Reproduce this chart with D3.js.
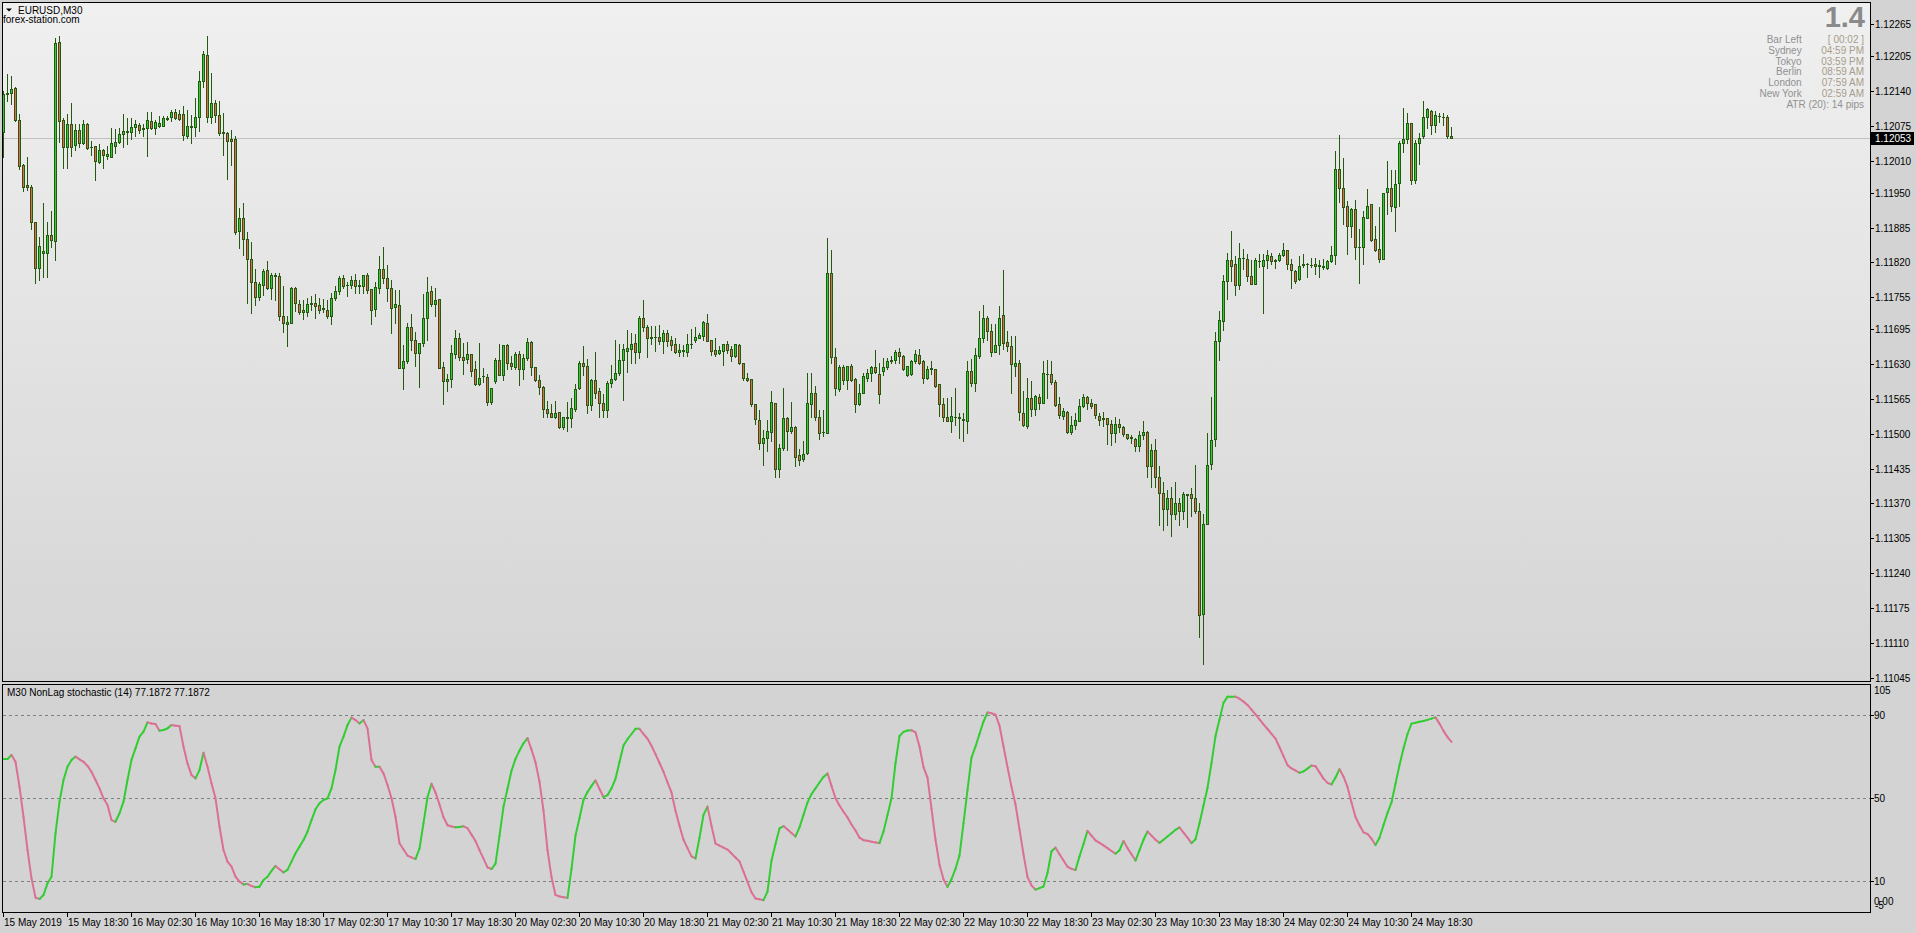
<!DOCTYPE html>
<html><head><meta charset="utf-8">
<script src="https://cdn.jsdelivr.net/npm/d3@7/dist/d3.min.js"></script>
<style>html,body{margin:0;padding:0;background:#d3d3d3;overflow:hidden}</style>
</head><body><svg id="c" width="1916" height="933"></svg>
<script>
const opens=[1.12063,1.12134,1.12137,1.12145,1.12086,1.12001,1.11964,1.11960,1.11895,1.11810,
1.11838,1.11838,1.11871,1.11859,1.12231,1.12086,1.12035,1.12078,1.12039,1.12067,
1.12042,1.12078,1.12036,1.12037,1.12008,1.12029,1.12019,1.12017,1.12038,1.12044,
1.12059,1.12064,1.12064,1.12072,1.12076,1.12070,1.12070,1.12084,1.12070,1.12075,
1.12075,1.12088,1.12091,1.12101,1.12097,1.12097,1.12055,1.12072,1.12072,1.12092,
1.12158,1.12207,1.12091,1.12117,1.12096,1.12063,1.12062,1.12050,1.12050,1.11878,
1.11902,1.11864,1.11827,1.11783,1.11755,1.11778,1.11806,1.11773,1.11795,1.11795,
1.11720,1.11705,1.11707,1.11772,1.11742,1.11732,1.11728,1.11742,1.11744,1.11740,
1.11734,1.11732,1.11719,1.11753,1.11766,1.11791,1.11777,1.11778,1.11787,1.11776,
1.11776,1.11796,1.11770,1.11733,1.11773,1.11808,1.11791,1.11772,1.11736,1.11740,
1.11623,1.11635,1.11699,1.11676,1.11650,1.11669,1.11717,1.11766,1.11742,1.11751,
1.11625,1.11599,1.11602,1.11648,1.11678,1.11644,1.11639,1.11648,1.11621,1.11592,
1.11607,1.11606,1.11560,1.11599,1.11638,1.11609,1.11665,1.11632,1.11625,1.11648,
1.11620,1.11641,1.11671,1.11624,1.11600,1.11588,1.11546,1.11539,1.11532,1.11540,
1.11512,1.11530,1.11530,1.11546,1.11585,1.11632,1.11627,1.11553,1.11600,1.11579,
1.11557,1.11545,1.11595,1.11602,1.11613,1.11638,1.11655,1.11658,1.11669,1.11653,
1.11717,1.11699,1.11678,1.11681,1.11680,1.11674,1.11689,1.11675,1.11667,1.11652,
1.11655,1.11652,1.11667,1.11675,1.11679,1.11683,1.11706,1.11675,1.11656,1.11650,
1.11655,1.11667,1.11658,1.11645,1.11665,1.11633,1.11605,1.11602,1.11555,1.11525,
1.11483,1.11492,1.11504,1.11557,1.11434,1.11473,1.11529,1.11506,1.11513,1.11460,
1.11452,1.11464,1.11556,1.11576,1.11532,1.11503,1.11502,1.11801,1.11644,1.11583,
1.11624,1.11600,1.11626,1.11602,1.11555,1.11577,1.11605,1.11614,1.11624,1.11611,
1.11618,1.11624,1.11635,1.11637,1.11652,1.11645,1.11609,1.11611,1.11635,1.11647,
1.11635,1.11605,1.11621,1.11620,1.11592,1.11555,1.11531,1.11524,1.11532,1.11531,
1.11528,1.11523,1.11617,1.11595,1.11646,1.11678,1.11717,1.11691,1.11653,1.11666,
1.11722,1.11672,1.11664,1.11627,1.11633,1.11538,1.11515,1.11566,1.11546,1.11569,
1.11557,1.11611,1.11611,1.11597,1.11555,1.11534,1.11540,1.11503,1.11516,1.11524,
1.11552,1.11568,1.11557,1.11555,1.11534,1.11529,1.11529,1.11519,1.11501,1.11518,
1.11513,1.11499,1.11492,1.11491,1.11478,1.11498,1.11504,1.11440,1.11470,1.11420,
1.11390,1.11360,1.11380,1.11350,1.11370,1.11355,1.11386,1.11387,1.11381,1.11355,
1.11163,1.11331,1.11443,1.11490,1.11673,1.11710,1.11785,1.11824,1.11817,1.11777,
1.11828,1.11826,1.11794,1.11780,1.11823,1.11813,1.11824,1.11831,1.11823,1.11824,
1.11833,1.11843,1.11817,1.11803,1.11789,1.11815,1.11817,1.11816,1.11817,1.11815,
1.11813,1.11810,1.11822,1.11833,1.11994,1.11959,1.11926,1.11888,1.11919,1.11848,
1.11848,1.11902,1.11929,1.11863,1.11845,1.11826,1.11952,1.11959,1.11924,1.11968,
1.12042,1.12050,1.12080,1.11973,1.12042,1.12055,1.12091,1.12103,1.12077,1.12094,
1.12091,1.12091,1.12056];
const highs=[1.12140,1.12171,1.12168,1.12148,1.12097,1.12003,1.12017,1.11964,1.11896,1.11867,
1.11930,1.11895,1.11916,1.12239,1.12243,1.12089,1.12097,1.12118,1.12078,1.12078,
1.12085,1.12080,1.12047,1.12037,1.12041,1.12032,1.12038,1.12070,1.12069,1.12070,
1.12097,1.12090,1.12090,1.12086,1.12080,1.12078,1.12101,1.12101,1.12086,1.12093,
1.12093,1.12093,1.12104,1.12106,1.12104,1.12112,1.12104,1.12095,1.12126,1.12177,
1.12215,1.12243,1.12173,1.12124,1.12121,1.12098,1.12063,1.12067,1.12056,1.11922,
1.11930,1.11877,1.11858,1.11808,1.11783,1.11808,1.11823,1.11800,1.11800,1.11800,
1.11775,1.11720,1.11774,1.11774,1.11750,1.11750,1.11754,1.11757,1.11761,1.11753,
1.11752,1.11750,1.11763,1.11776,1.11795,1.11797,1.11783,1.11795,1.11798,1.11788,
1.11796,1.11801,1.11770,1.11783,1.11832,1.11848,1.11815,1.11788,1.11768,1.11768,
1.11666,1.11706,1.11724,1.11690,1.11669,1.11761,1.11793,1.11776,1.11772,1.11751,
1.11634,1.11612,1.11666,1.11694,1.11689,1.11669,1.11671,1.11648,1.11635,1.11669,
1.11623,1.11611,1.11585,1.11641,1.11668,1.11665,1.11667,1.11645,1.11653,1.11655,
1.11649,1.11679,1.11674,1.11625,1.11610,1.11590,1.11562,1.11555,1.11561,1.11540,
1.11531,1.11559,1.11566,1.11592,1.11636,1.11664,1.11640,1.11602,1.11653,1.11585,
1.11574,1.11599,1.11628,1.11675,1.11668,1.11668,1.11694,1.11689,1.11686,1.11720,
1.11750,1.11703,1.11702,1.11702,1.11704,1.11694,1.11694,1.11683,1.11678,1.11667,
1.11666,1.11686,1.11695,1.11699,1.11689,1.11711,1.11723,1.11676,1.11678,1.11664,
1.11667,1.11673,1.11663,1.11667,1.11667,1.11633,1.11613,1.11602,1.11555,1.11544,
1.11507,1.11526,1.11580,1.11557,1.11481,1.11586,1.11532,1.11559,1.11515,1.11472,
1.11487,1.11613,1.11613,1.11589,1.11544,1.11544,1.11865,1.11843,1.11660,1.11628,
1.11628,1.11627,1.11630,1.11604,1.11593,1.11614,1.11621,1.11627,1.11656,1.11632,
1.11642,1.11642,1.11645,1.11656,1.11661,1.11647,1.11627,1.11638,1.11656,1.11658,
1.11638,1.11627,1.11635,1.11620,1.11592,1.11567,1.11566,1.11568,1.11585,1.11538,
1.11538,1.11635,1.11640,1.11661,1.11729,1.11740,1.11720,1.11705,1.11705,1.11739,
1.11806,1.11692,1.11683,1.11683,1.11638,1.11580,1.11605,1.11599,1.11572,1.11575,
1.11635,1.11638,1.11636,1.11600,1.11568,1.11549,1.11543,1.11533,1.11538,1.11565,
1.11574,1.11571,1.11565,1.11555,1.11539,1.11540,1.11530,1.11526,1.11531,1.11527,
1.11515,1.11500,1.11498,1.11493,1.11506,1.11524,1.11505,1.11480,1.11490,1.11440,
1.11410,1.11395,1.11400,1.11410,1.11380,1.11392,1.11387,1.11399,1.11441,1.11371,
1.11350,1.11501,1.11569,1.11690,1.11730,1.11796,1.11838,1.11878,1.11831,1.11856,
1.11845,1.11836,1.11824,1.11829,1.11835,1.11836,1.11843,1.11838,1.11827,1.11838,
1.11856,1.11843,1.11826,1.11805,1.11831,1.11835,1.11818,1.11829,1.11828,1.11824,
1.11827,1.11824,1.11850,1.12028,1.12058,1.12015,1.11935,1.11922,1.11937,1.11883,
1.11916,1.11957,1.11929,1.11887,1.11924,1.11950,1.12010,1.11992,1.11992,1.12046,
1.12108,1.12098,1.12080,1.12048,1.12062,1.12122,1.12109,1.12105,1.12103,1.12098,
1.12098,1.12096,1.12072];
const lows=[1.12017,1.12122,1.12116,1.12083,1.11994,1.11953,1.11956,1.11882,1.11781,1.11788,
1.11793,1.11793,1.11849,1.11825,1.12045,1.11997,1.11997,1.12019,1.12030,1.12036,
1.12041,1.12032,1.12020,1.11974,1.12006,1.11997,1.12013,1.12016,1.12024,1.12042,
1.12036,1.12041,1.12050,1.12056,1.12061,1.12056,1.12019,1.12069,1.12060,1.12072,
1.12075,1.12086,1.12084,1.12088,1.12086,1.12048,1.12052,1.12042,1.12056,1.12066,
1.12148,1.12082,1.12081,1.12082,1.12057,1.12020,1.11976,1.12002,1.11873,1.11847,
1.11833,1.11744,1.11725,1.11740,1.11750,1.11759,1.11771,1.11752,1.11750,1.11712,
1.11690,1.11663,1.11706,1.11729,1.11723,1.11714,1.11719,1.11731,1.11717,1.11725,
1.11728,1.11717,1.11705,1.11749,1.11761,1.11773,1.11758,1.11772,1.11762,1.11762,
1.11762,1.11762,1.11705,1.11719,1.11762,1.11781,1.11747,1.11689,1.11707,1.11622,
1.11584,1.11633,1.11656,1.11627,1.11588,1.11663,1.11675,1.11739,1.11719,1.11622,
1.11555,1.11579,1.11588,1.11642,1.11638,1.11612,1.11632,1.11607,1.11591,1.11591,
1.11597,1.11553,1.11556,1.11595,1.11609,1.11600,1.11621,1.11621,1.11621,1.11591,
1.11602,1.11638,1.11610,1.11599,1.11574,1.11532,1.11532,1.11531,1.11530,1.11510,
1.11508,1.11506,1.11513,1.11543,1.11583,1.11610,1.11539,1.11544,1.11567,1.11532,
1.11532,1.11532,1.11588,1.11600,1.11610,1.11563,1.11616,1.11632,1.11633,1.11642,
1.11691,1.11644,1.11668,1.11655,1.11667,1.11651,1.11663,1.11656,1.11651,1.11645,
1.11645,1.11645,1.11660,1.11672,1.11678,1.11675,1.11674,1.11647,1.11645,1.11648,
1.11628,1.11650,1.11636,1.11643,1.11630,1.11600,1.11599,1.11552,1.11519,1.11471,
1.11442,1.11467,1.11487,1.11420,1.11420,1.11470,1.11470,1.11502,1.11439,1.11441,
1.11450,1.11462,1.11532,1.11526,1.11491,1.11495,1.11502,1.11632,1.11572,1.11579,
1.11593,1.11584,1.11599,1.11541,1.11553,1.11576,1.11599,1.11599,1.11613,1.11558,
1.11610,1.11621,1.11632,1.11633,1.11633,1.11619,1.11607,1.11610,1.11632,1.11631,
1.11595,1.11602,1.11612,1.11588,1.11533,1.11524,1.11524,1.11504,1.11516,1.11493,
1.11487,1.11502,1.11590,1.11580,1.11642,1.11672,1.11675,1.11645,1.11653,1.11649,
1.11659,1.11655,1.11577,1.11607,1.11526,1.11515,1.11511,1.11534,1.11535,1.11546,
1.11557,1.11567,1.11593,1.11552,1.11530,1.11528,1.11502,1.11500,1.11508,1.11523,
1.11550,1.11547,1.11549,1.11530,1.11516,1.11515,1.11481,1.11479,1.11485,1.11503,
1.11496,1.11491,1.11482,1.11467,1.11467,1.11490,1.11420,1.11400,1.11400,1.11330,
1.11320,1.11330,1.11310,1.11340,1.11330,1.11341,1.11326,1.11346,1.11352,1.11121,
1.11071,1.11331,1.11434,1.11478,1.11638,1.11694,1.11752,1.11785,1.11759,1.11770,
1.11807,1.11786,1.11780,1.11779,1.11812,1.11726,1.11810,1.11817,1.11810,1.11822,
1.11831,1.11808,1.11773,1.11782,1.11787,1.11812,1.11793,1.11812,1.11799,1.11792,
1.11807,1.11808,1.11821,1.11817,1.11933,1.11892,1.11836,1.11868,1.11827,1.11782,
1.11817,1.11902,1.11859,1.11842,1.11821,1.11826,1.11910,1.11915,1.11878,1.11926,
1.12026,1.12042,1.11966,1.11968,1.12004,1.12052,1.12070,1.12060,1.12063,1.12082,
1.12077,1.12052,1.12052];
const closes=[1.12134,1.12136,1.12143,1.12085,1.11999,1.11961,1.11960,1.11896,1.11810,1.11850,
1.11841,1.11871,1.11861,1.12229,1.12083,1.12036,1.12078,1.12036,1.12067,1.12042,
1.12078,1.12034,1.12035,1.12009,1.12029,1.12021,1.12022,1.12042,1.12044,1.12059,
1.12065,1.12065,1.12072,1.12078,1.12068,1.12069,1.12086,1.12070,1.12082,1.12081,
1.12090,1.12090,1.12101,1.12090,1.12088,1.12057,1.12074,1.12074,1.12091,1.12158,
1.12209,1.12092,1.12117,1.12096,1.12061,1.12062,1.12047,1.12046,1.11877,1.11902,
1.11864,1.11827,1.11783,1.11755,1.11780,1.11803,1.11773,1.11796,1.11796,1.11720,
1.11707,1.11708,1.11772,1.11744,1.11728,1.11727,1.11742,1.11744,1.11739,1.11732,
1.11733,1.11719,1.11753,1.11766,1.11791,1.11775,1.11778,1.11787,1.11775,1.11777,
1.11796,1.11768,1.11731,1.11774,1.11808,1.11790,1.11772,1.11735,1.11742,1.11623,
1.11636,1.11699,1.11676,1.11650,1.11669,1.11717,1.11764,1.11742,1.11749,1.11623,
1.11599,1.11602,1.11650,1.11678,1.11644,1.11638,1.11648,1.11618,1.11592,1.11605,
1.11607,1.11560,1.11585,1.11638,1.11609,1.11665,1.11632,1.11627,1.11648,1.11620,
1.11641,1.11671,1.11624,1.11600,1.11588,1.11546,1.11539,1.11532,1.11538,1.11513,
1.11531,1.11531,1.11548,1.11583,1.11632,1.11627,1.11553,1.11600,1.11577,1.11558,
1.11544,1.11594,1.11602,1.11613,1.11637,1.11658,1.11660,1.11667,1.11653,1.11717,
1.11699,1.11678,1.11681,1.11681,1.11674,1.11688,1.11674,1.11665,1.11652,1.11656,
1.11656,1.11667,1.11668,1.11680,1.11684,1.11708,1.11674,1.11655,1.11649,1.11656,
1.11667,1.11657,1.11645,1.11667,1.11632,1.11605,1.11600,1.11556,1.11527,1.11483,
1.11492,1.11505,1.11559,1.11434,1.11473,1.11529,1.11506,1.11513,1.11457,1.11451,
1.11462,1.11557,1.11577,1.11531,1.11502,1.11503,1.11801,1.11643,1.11585,1.11624,
1.11600,1.11627,1.11600,1.11555,1.11577,1.11608,1.11613,1.11624,1.11616,1.11574,
1.11625,1.11635,1.11637,1.11652,1.11646,1.11621,1.11627,1.11635,1.11648,1.11633,
1.11605,1.11621,1.11622,1.11590,1.11555,1.11532,1.11524,1.11533,1.11531,1.11529,
1.11525,1.11618,1.11595,1.11647,1.11678,1.11716,1.11691,1.11653,1.11666,1.11717,
1.11670,1.11664,1.11630,1.11633,1.11540,1.11516,1.11566,1.11547,1.11571,1.11558,
1.11613,1.11612,1.11597,1.11554,1.11535,1.11543,1.11503,1.11516,1.11526,1.11552,
1.11568,1.11557,1.11552,1.11535,1.11526,1.11528,1.11518,1.11501,1.11518,1.11513,
1.11499,1.11493,1.11494,1.11478,1.11498,1.11504,1.11440,1.11470,1.11420,1.11390,
1.11360,1.11380,1.11350,1.11370,1.11355,1.11387,1.11387,1.11381,1.11355,1.11161,
1.11332,1.11441,1.11489,1.11673,1.11712,1.11785,1.11824,1.11814,1.11777,1.11828,
1.11829,1.11794,1.11780,1.11824,1.11822,1.11824,1.11833,1.11822,1.11824,1.11834,
1.11843,1.11817,1.11805,1.11786,1.11813,1.11817,1.11817,1.11815,1.11813,1.11814,
1.11811,1.11822,1.11833,1.11994,1.11958,1.11924,1.11888,1.11919,1.11848,1.11849,
1.11904,1.11926,1.11861,1.11843,1.11826,1.11949,1.11959,1.11926,1.11966,1.12042,
1.12050,1.12080,1.11973,1.12042,1.12053,1.12091,1.12107,1.12077,1.12095,1.12093,
1.12091,1.12055,1.12053];
const stochValues=[68.9,68.9,70.9,67.6,55.6,41.1,25.1,11.4,2.1,1.5,3.4,9.0,12.2,33.1,48.4,58.8,65.2,68.5,70.1,68.8,
67.6,65.6,62.8,58.8,54.8,50.0,46.8,39.5,38.7,42.8,48.4,58.8,68.5,74.1,79.7,82.1,86.6,86.1,85.8,82.6,
82.9,83.7,85.3,85.0,84.8,74.9,66.8,61.2,59.6,63.6,72.0,65.2,57.2,50.0,36.3,25.1,19.5,17.1,12.2,9.8,
8.5,8.7,7.7,7.1,7.4,10.6,12.2,15.0,17.4,15.8,14.3,15.5,19.5,23.5,26.7,29.9,33.9,39.5,44.7,47.6,
49.2,50.0,54.8,63.6,74.9,79.7,85.3,88.9,87.7,86.1,87.7,83.7,68.5,65.2,65.2,62.0,56.4,50.0,41.1,28.3,
25.3,22.4,21.5,20.7,25.8,38.0,50.5,57.0,52.8,47.0,40.9,37.0,36.4,36.0,36.2,36.5,35.6,32.5,29.4,25.0,
20.9,16.7,15.9,18.5,32.0,46.0,54.6,63.3,69.0,73.0,76.5,79.0,73.5,67.3,58.0,44.0,25.0,12.0,3.4,2.7,
2.3,2.0,16.0,32.0,40.5,49.3,53.0,56.0,58.6,54.5,50.6,51.5,54.8,59.4,67.5,75.5,78.5,81.0,83.5,83.5,
81.0,78.7,75.3,71.3,67.0,62.8,57.7,52.8,44.0,36.8,30.0,26.0,22.0,21.0,31.0,42.0,46.0,36.7,28.2,27.2,
26.2,25.3,23.4,21.5,19.6,14.6,9.7,4.7,1.7,1.3,0.9,5.0,20.0,28.0,35.5,36.6,35.0,33.3,31.6,36.0,
42.0,48.0,52.0,54.8,57.6,60.3,62.0,56.0,50.0,46.5,43.5,40.8,37.4,34.5,31.0,29.8,29.5,29.1,28.7,28.4,
34.0,42.0,50.0,67.0,80.0,82.0,82.7,82.8,81.8,75.0,65.0,60.0,45.0,30.0,18.0,11.0,7.3,11.0,16.0,22.5,
38.0,54.0,69.6,75.0,81.0,87.0,91.4,91.0,90.3,85.0,75.0,65.0,55.5,47.0,35.0,23.0,12.0,8.0,6.0,6.7,
7.5,14.0,24.5,26.2,23.0,20.0,17.0,16.0,15.4,22.0,28.0,34.3,32.0,29.7,28.5,27.3,26.0,24.6,23.3,25.0,
29.4,26.0,23.0,20.0,25.0,30.0,34.0,32.0,30.0,28.5,30.0,31.6,33.2,34.8,36.0,33.5,31.0,28.4,30.3,38.0,
46.5,55.0,67.0,80.0,88.0,96.0,99.0,99.0,99.0,98.0,96.6,95.0,92.7,90.4,88.0,85.6,83.4,81.1,78.8,74.6,
70.3,66.0,64.4,63.4,62.3,63.0,64.3,65.8,65.5,62.5,59.5,57.4,56.7,60.0,64.0,60.5,55.5,48.0,41.0,37.0,
33.6,32.8,30.5,27.5,31.0,37.0,43.0,48.0,57.0,66.0,74.0,81.0,86.0,86.4,86.9,87.3,87.8,88.4,89.0,86.0,
82.5,79.5,77.2];
const timeLabels=["15 May 2019","15 May 18:30","16 May 02:30","16 May 10:30","16 May 18:30","17 May 02:30","17 May 10:30","17 May 18:30","20 May 02:30","20 May 10:30","20 May 18:30","21 May 02:30","21 May 10:30","21 May 18:30","22 May 02:30","22 May 10:30","22 May 18:30","23 May 02:30","23 May 10:30","23 May 18:30","24 May 02:30","24 May 10:30","24 May 18:30"];
const barsPerLabel=16;
const priceTicks=[1.12265,1.12205,1.12140,1.12075,1.12010,1.11950,1.11885,1.11820,1.11755,1.11695,1.11630,1.11565,1.11500,1.11435,1.11370,1.11305,1.11240,1.11175,1.11110,1.11045];
const stochLevels=[90,50,10];
const infoNames=["Bar Left","Sydney","Tokyo","Berlin","London","New York"];
const infoValues=["[ 00:02 ]","04:59 PM","03:59 PM","08:59 AM","07:59 AM","02:59 AM"];
const spreadText="1.4", atrText="ATR (20): 14 pips";
const symbolTitle="EURUSD,M30", siteTitle="forex-station.com";
const stochTitle="M30 NonLag stochastic (14) 77.1872 77.1872";

const FONT="Tahoma, 'Liberation Sans', Arial, sans-serif";
const svg=d3.select('#c');
const PL=2, PR=1870, MT=2, MB=681, ST=684, SB=912;
const n=closes.length;
const x=d3.scaleLinear().domain([0,n-1]).range([3.5,3.5+4*(n-1)]);
const y=d3.scaleLinear().domain([1.11045,1.12265]).range([677.5,24]);
const ys=d3.scaleLinear().domain([-5,105]).range([912.4,684.2]);

svg.append('rect').attr('width',1916).attr('height',933).attr('fill','#d3d3d3');
const defs=svg.append('defs');
const g=defs.append('linearGradient').attr('id','bg').attr('x1',0).attr('y1',0).attr('x2',0).attr('y2',1);
g.append('stop').attr('offset',0).attr('stop-color','#f0f0f0');
g.append('stop').attr('offset',1).attr('stop-color','#d5d5d5');
defs.append('clipPath').attr('id','mainclip').append('rect').attr('x',PL+1).attr('y',MT+1).attr('width',PR-PL-1).attr('height',MB-MT-1);
defs.append('clipPath').attr('id','subclip').append('rect').attr('x',PL+1).attr('y',ST+1).attr('width',PR-PL-1).attr('height',SB-ST-1);

svg.append('rect').attr('x',PL).attr('y',MT).attr('width',PR-PL).attr('height',MB-MT).attr('fill','url(#bg)');

const last=closes[n-1];
svg.append('rect').attr('x',PL).attr('y',Math.round(y(last))).attr('width',PR-PL).attr('height',1).attr('fill','#c0c0c0');

const cg=svg.append('g').attr('clip-path','url(#mainclip)').attr('shape-rendering','crispEdges');
const EDGE='#245a10', UP='#32cd32', DN='#e8674e';
for(let i=0;i<n;i++){
  const col=Math.floor(x(i));
  const yH=Math.round(y(highs[i])), yL=Math.round(y(lows[i]));
  cg.append('rect').attr('x',col).attr('y',yH).attr('width',1).attr('height',Math.max(1,yL-yH+1)).attr('fill',EDGE);
  const yT=Math.round(y(Math.max(opens[i],closes[i]))), yB=Math.round(y(Math.min(opens[i],closes[i])));
  const h=yB-yT+1;
  cg.append('rect').attr('x',col-1).attr('y',yT).attr('width',3).attr('height',h).attr('fill',EDGE);
  if(h>=3) cg.append('rect').attr('x',col).attr('y',yT+1).attr('width',1).attr('height',h-2).attr('fill',closes[i]>=opens[i]?UP:DN);
}

function hline(x0,x1,yy,c){svg.append('rect').attr('x',x0).attr('y',yy).attr('width',x1-x0+1).attr('height',1).attr('fill',c||'#000');}
function vline(xx,y0,y1,c){svg.append('rect').attr('x',xx).attr('y',y0).attr('width',1).attr('height',y1-y0+1).attr('fill',c||'#000');}
hline(PL,PR,MT); hline(PL,PR,MB); vline(PL,MT,MB); vline(PR,MT,MB);
hline(PL,PR,ST); hline(PL,PR,SB); vline(PL,ST,SB); vline(PR,ST,SB);

const ax=svg.append('g').attr('font-family',FONT).attr('font-size','10px').attr('fill','#000');
priceTicks.forEach(p=>{
  const yy=Math.round(y(p));
  hline(PR+1,PR+3,yy);
  ax.append('text').attr('x',1875).attr('y',yy+3.6).text(p.toFixed(5));
});
svg.append('rect').attr('x',1871).attr('y',Math.round(y(last))-6).attr('width',43).attr('height',13).attr('fill','#000');
svg.append('text').attr('x',1875).attr('y',Math.round(y(last))+4).attr('font-family',FONT).attr('font-size','10px').attr('fill','#fff').text(last.toFixed(5));

const sg=svg.append('g').attr('clip-path','url(#subclip)');
stochLevels.forEach(v=>{
  sg.append('line').attr('x1',PL+1).attr('x2',PR).attr('y1',Math.round(ys(v))+0.5).attr('y2',Math.round(ys(v))+0.5)
    .attr('stroke','#808080').attr('stroke-width',1).attr('stroke-dasharray','3,3');
});
const seg=d3.line().x(d=>x(d[0])).y(d=>ys(d[1]));
for(let i=1;i<stochValues.length;i++){
  sg.append('path').attr('d',seg([[i-1,stochValues[i-1]],[i,stochValues[i]]]))
    .attr('fill','none').attr('stroke',stochValues[i]>=stochValues[i-1]?'#32cd32':'#db7093')
    .attr('stroke-width',2).attr('stroke-linecap','round');
}
const sax=svg.append('g').attr('font-family',FONT).attr('font-size','10px').attr('fill','#000');
[[105,694.3],[90,718.9],[50,801.9],[10,884.9]].forEach(([v,yy])=>{
  if(v!==105) hline(PR+1,PR+3,Math.round(ys(v)));
  sax.append('text').attr('x',1874).attr('y',yy).text(v);
});
sax.append('text').attr('x',1874).attr('y',905).text('0.00');
sax.append('text').attr('x',1875).attr('y',908.6).text('-5');
svg.append('text').attr('x',7).attr('y',696.3).attr('font-family',FONT).attr('font-size','10px').text(stochTitle);

const tg=svg.append('g').attr('font-family',FONT).attr('font-size','10px').attr('fill','#000');
timeLabels.forEach((t,k)=>{
  const xx=Math.floor(x(k*barsPerLabel));
  vline(xx,SB+1,SB+4);
  tg.append('text').attr('x',xx+1).attr('y',925.6).text(t);
});

svg.append('path').attr('d','M6,8.5L12,8.5L9,11.5Z').attr('fill','#000');
svg.append('text').attr('x',18).attr('y',13.6).attr('font-family',FONT).attr('font-size','10px').text(symbolTitle);
svg.append('text').attr('x',3).attr('y',22.6).attr('font-family',FONT).attr('font-size','10px').text(siteTitle);

svg.append('text').attr('x',1865).attr('y',27).attr('text-anchor','end').attr('font-family',FONT).attr('font-size','29px').attr('font-weight','bold').attr('fill','#8a8a8a').text(spreadText);
const rowsY=[42.6,53.6,64.6,75.3,85.6,96.9];
infoNames.forEach((t,k)=>{
  svg.append('text').attr('x',1801.7).attr('y',rowsY[k]).attr('text-anchor','end').attr('font-family',FONT).attr('font-size','10px').attr('fill','#909090').text(t);
  svg.append('text').attr('x',1864).attr('y',rowsY[k]).attr('text-anchor','end').attr('font-family',FONT).attr('font-size','10px').attr('fill','#a89c8c').text(infoValues[k]);
});
svg.append('text').attr('x',1864).attr('y',108.3).attr('text-anchor','end').attr('font-family',FONT).attr('font-size','10px').attr('fill','#909090').text(atrText);
</script></body></html>
